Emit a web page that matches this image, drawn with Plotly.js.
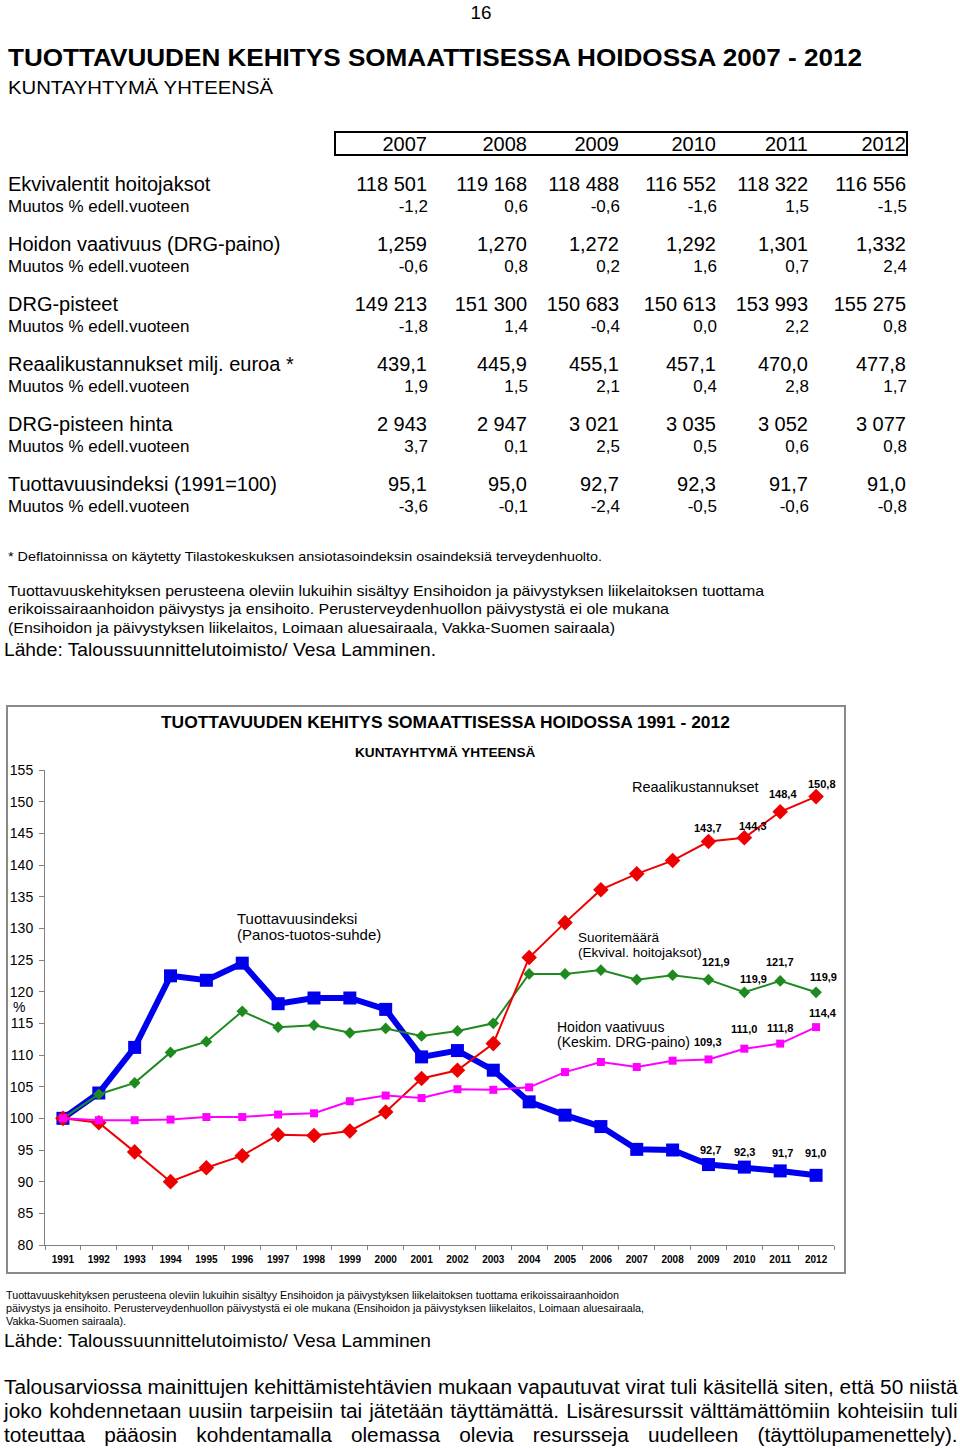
<!DOCTYPE html>
<html><head><meta charset="utf-8">
<script src="https://cdn.plot.ly/plotly-3.0.1.min.js"></script>
<style>
html,body{margin:0;padding:0;background:#fff;width:960px;height:1449px;overflow:hidden;}
#page{position:absolute;left:0;top:0;}
#chart{position:absolute;left:7px;top:706px;width:838px;height:567px;}
#frame{position:absolute;left:6px;top:705px;width:836px;height:565px;border:2px solid #8a8a8a;pointer-events:none;}
</style></head><body>
<svg id="page" width="960" height="1449" xmlns="http://www.w3.org/2000/svg" font-family="'Liberation Sans', Arial, Helvetica, sans-serif" fill="#000"></svg>
<div id="chart"></div>
<div id="frame"></div>
<script>
// ---------------- DATA ----------------
const tableYears = ['2007','2008','2009','2010','2011','2012'];
const rowLabels = ['Ekvivalentit hoitojaksot','Hoidon vaativuus (DRG-paino)','DRG-pisteet','Reaalikustannukset milj. euroa *','DRG-pisteen hinta','Tuottavuusindeksi (1991=100)'];
const changeLabel = 'Muutos % edell.vuoteen';
const ekvHoitojaksot = ['118 501','119 168','118 488','116 552','118 322','116 556'];
const ekvMuutos = ['-1,2','0,6','-0,6','-1,6','1,5','-1,5'];
const drgPaino = ['1,259','1,270','1,272','1,292','1,301','1,332'];
const drgPainoMuutos = ['-0,6','0,8','0,2','1,6','0,7','2,4'];
const drgPisteet = ['149 213','151 300','150 683','150 613','153 993','155 275'];
const drgPisteetMuutos = ['-1,8','1,4','-0,4','0,0','2,2','0,8'];
const reaalikust = ['439,1','445,9','455,1','457,1','470,0','477,8'];
const reaalikustMuutos = ['1,9','1,5','2,1','0,4','2,8','1,7'];
const drgHinta = ['2 943','2 947','3 021','3 035','3 052','3 077'];
const drgHintaMuutos = ['3,7','0,1','2,5','0,5','0,6','0,8'];
const tuottIndeksi = ['95,1','95,0','92,7','92,3','91,7','91,0'];
const tuottMuutos = ['-3,6','-0,1','-2,4','-0,5','-0,6','-0,8'];

const years = ['1991','1992','1993','1994','1995','1996','1997','1998','1999','2000','2001','2002','2003','2004','2005','2006','2007','2008','2009','2010','2011','2012'];
const tuottavuus = [100.0,104.0,111.2,122.5,121.8,124.5,118.1,119.0,119.0,117.2,109.7,110.7,107.6,102.6,100.5,98.7,95.1,95.0,92.7,92.3,91.7,91.0];
const suoritemaara = [100.0,103.8,105.6,110.4,112.1,116.9,114.4,114.7,113.5,114.2,113.0,113.8,115.0,122.8,122.8,123.4,121.9,122.6,121.9,119.9,121.7,119.9];
const reaalikustannukset = [100.0,99.3,94.7,90.0,92.2,94.1,97.4,97.3,98.0,101.0,106.3,107.6,111.8,125.4,130.9,136.1,138.6,140.7,143.7,144.3,148.4,150.8];
const vaativuus = [100.0,99.7,99.7,99.8,100.2,100.2,100.6,100.8,102.7,103.6,103.2,104.6,104.5,104.9,107.3,108.9,108.1,109.1,109.3,111.0,111.8,114.4];
const labelledIdx = [18,19,20,21];
const yTicks = [80,85,90,95,100,105,110,115,120,125,130,135,140,145,150,155];
const gridTicks = [85,90,95,100,105,110,115,120,125,130,135,140,145,150];

// ---------------- PAGE TEXT (SVG) ----------------
const NS = 'http://www.w3.org/2000/svg';
const svg = document.getElementById('page');
function txt(str, x, y, size, o) {
  o = o || {};
  const t = document.createElementNS(NS, 'text');
  t.setAttribute('x', x); t.setAttribute('y', y);
  t.setAttribute('font-size', size);
  if (o.bold) t.setAttribute('font-weight', 'bold');
  if (o.anchor) t.setAttribute('text-anchor', o.anchor);
  if (o.len) { t.setAttribute('textLength', o.len); t.setAttribute('lengthAdjust', 'spacingAndGlyphs'); }
  t.textContent = str;
  svg.appendChild(t);
  return t;
}
txt('16', 481, 19, 19, {anchor: 'middle', len: 21});
txt('TUOTTAVUUDEN KEHITYS SOMAATTISESSA HOIDOSSA 2007 - 2012', 8, 66, 24, {bold: true, len: 854});
txt('KUNTAYHTYMÄ YHTEENSÄ', 8, 94, 19, {len: 265});

const rect = document.createElementNS(NS, 'rect');
rect.setAttribute('x', 335); rect.setAttribute('y', 132); rect.setAttribute('width', 572); rect.setAttribute('height', 23);
rect.setAttribute('fill', 'none'); rect.setAttribute('stroke', '#000'); rect.setAttribute('stroke-width', 2);
svg.appendChild(rect);

const colRight = [427, 527, 619, 716, 808, 906];
tableYears.forEach((y, i) => txt(y, colRight[i], 151, 20, {anchor: 'end'}));
const rowValues = [ekvHoitojaksot, drgPaino, drgPisteet, reaalikust, drgHinta, tuottIndeksi];
const rowChanges = [ekvMuutos, drgPainoMuutos, drgPisteetMuutos, reaalikustMuutos, drgHintaMuutos, tuottMuutos];
rowLabels.forEach((lab, g) => {
  const y1 = 191 + 60 * g, y2 = 212 + 60 * g;
  txt(lab, 8, y1, 20);
  txt(changeLabel, 8, y2, 17);
  rowValues[g].forEach((v, i) => txt(v, colRight[i], y1, 20, {anchor: 'end'}));
  rowChanges[g].forEach((v, i) => txt(v, colRight[i] + 1, y2, 17, {anchor: 'end'}));
});

txt('* Deflatoinnissa on käytetty Tilastokeskuksen ansiotasoindeksin osaindeksiä terveydenhuolto.', 8, 561, 13, {len: 594});
txt('Tuottavuuskehityksen perusteena oleviin lukuihin sisältyy Ensihoidon ja päivystyksen liikelaitoksen tuottama', 8, 596, 15, {len: 756});
txt('erikoissairaanhoidon päivystys ja ensihoito.  Perusterveydenhuollon päivystystä ei ole mukana', 8, 614, 15, {len: 661});
txt('(Ensihoidon ja päivystyksen liikelaitos, Loimaan aluesairaala, Vakka-Suomen sairaala)', 8, 633, 15, {len: 607});
txt('Lähde:  Taloussuunnittelutoimisto/ Vesa Lamminen.', 4, 656, 19, {len: 432});

txt('Tuottavuuskehityksen perusteena oleviin lukuihin sisältyy Ensihoidon ja päivystyksen liikelaitoksen tuottama erikoissairaanhoidon', 6, 1299, 10.5, {len: 613});
txt('päivystys ja ensihoito.  Perusterveydenhuollon päivystystä ei ole mukana (Ensihoidon ja päivystyksen liikelaitos, Loimaan aluesairaala,', 6, 1312, 10.5, {len: 638});
txt('Vakka-Suomen sairaala).', 6, 1325, 10.5, {len: 120});
txt('Lähde:  Taloussuunnittelutoimisto/ Vesa Lamminen', 4, 1347, 19, {len: 427});

const paraLines = [
  'Talousarviossa mainittujen kehittämistehtävien mukaan vapautuvat virat tuli käsitellä siten, että 50 niistä',
  'joko kohdennetaan uusiin tarpeisiin tai jätetään täyttämättä. Lisäresurssit välttämättömiin kohteisiin tuli',
  'toteuttaa pääosin kohdentamalla olemassa olevia resursseja uudelleen (täyttölupamenettely).'
];
const paraY = [1394, 1418, 1442];
const paraEls = paraLines.map(s => txt(s, 0, 0, 21));
const paraW = paraEls.map(e => e.getComputedTextLength());
const target = 954;
const c = Math.min(...paraW.map(w => target / w));
paraEls.forEach((e, i) => {
  const n = (paraLines[i].match(/ /g) || []).length;
  const ws = Math.max(0, (target / c - paraW[i]) / n);
  e.style.wordSpacing = ws + 'px';
  e.setAttribute('transform', 'translate(4,' + paraY[i] + ') scale(' + c + ',1)');
});

// ---------------- CHART (Plotly) ----------------
const FONT = "'Liberation Sans', Arial, Helvetica, sans-serif";
const PX = px => (px - 45) / 789;
const PY = py => (1245 - py) / 475;
function series(y, color, width, symbol, size) {
  return {type: 'scatter', mode: 'lines+markers', x: years, y: y,
    line: {color: color, width: width}, marker: {symbol: symbol, size: size, color: color},
    hoverinfo: 'skip', cliponaxis: false};
}
const traces = [
  series(tuottavuus, '#0000ee', 6, 'square', 13),
  series(suoritemaara, '#1f8a1f', 2, 'diamond', 9),
  series(reaalikustannukset, '#ee0000', 2, 'diamond', 12),
  series(vaativuus, '#ff00ff', 2, 'square', 8)
];

const fmt = v => v.toFixed(1).replace('.', ',');
const labelSets = [
  {data: reaalikustannukset, off: [[0,14],[9,12],[3,18],[6,13]]},
  {data: suoritemaara, off: [[8,18],[9,13],[0,19],[7,15]]},
  {data: vaativuus, off: [[0,17],[0,20],[0,16],[7,14]]},
  {data: tuottavuus, off: [[2,15],[0,15],[2,18],[-1,22]]}
];
const annotations = [];
labelSets.forEach(s => {
  labelledIdx.forEach((idx, k) => {
    annotations.push({x: idx, y: s.data[idx], xref: 'x', yref: 'y', text: fmt(s.data[idx]),
      showarrow: false, xanchor: 'center', yanchor: 'middle', xshift: s.off[k][0], yshift: s.off[k][1],
      font: {size: 11, family: FONT, color: '#000', weight: 'bold'}, borderpad: 0});
  });
});
function note(text, px, py, size, o) {
  o = o || {};
  annotations.push({xref: 'paper', yref: 'paper', x: PX(px), y: PY(py), text: text, showarrow: false,
    xanchor: o.anchor || 'left', yanchor: 'middle', borderpad: 0,
    font: {size: size, family: FONT, color: '#000', weight: o.bold ? 'bold' : 'normal'}});
}
note('TUOTTAVUUDEN KEHITYS SOMAATTISESSA HOIDOSSA 1991 - 2012', 445, 722, 17.4, {anchor: 'center', bold: true});
note('KUNTAYHTYMÄ YHTEENSÄ', 445, 753, 13.6, {anchor: 'center', bold: true});
note('Tuottavuusindeksi', 236, 918, 15);
note('(Panos-tuotos-suhde)', 236, 935, 15);
note('Reaalikustannukset', 631, 787, 14.5);
note('Suoritemäärä', 577, 937, 13.5);
note('(Ekvival. hoitojaksot)', 577, 952, 13.5);
note('Hoidon vaativuus', 556, 1027, 14);
note('(Keskim. DRG-paino)', 556, 1042, 14);
note('%', 19, 1007, 14, {anchor: 'center'});

const layout = {
  width: 838, height: 567,
  margin: {l: 38, r: 11, t: 64, b: 28, pad: 0},
  paper_bgcolor: '#ffffff', plot_bgcolor: '#ffffff',
  showlegend: false,
  font: {family: FONT, color: '#000'},
  xaxis: {type: 'category', range: [-0.5, years.length - 0.5], autorange: false,
    tickson: 'boundaries', ticks: 'outside', ticklen: 4, tickcolor: '#808080', tickangle: 0,
    ticklabelstandoff: 5,
    showline: true, linecolor: '#808080', linewidth: 1, showgrid: false, zeroline: false,
    tickfont: {size: 10, family: FONT, color: '#000', weight: 'bold'}, fixedrange: true},
  yaxis: {range: [80, 155], autorange: false, tickmode: 'array', tickvals: yTicks, ticks: 'outside', ticklen: 5, tickcolor: '#808080',
    ticklabelstandoff: 3,
    showline: true, linecolor: '#808080', linewidth: 1, showgrid: false, zeroline: false,
    tickfont: {size: 14, family: FONT, color: '#000'}, fixedrange: true},
  yaxis2: {overlaying: 'y', range: [80, 155], autorange: false, tickmode: 'array', tickvals: gridTicks, showticklabels: false,
    ticks: '', showgrid: true, gridcolor: '#8c8c8c', gridwidth: 1, showline: false, zeroline: false, fixedrange: true},
  annotations: annotations
};
Plotly.newPlot('chart', traces, layout, {displayModeBar: false, staticPlot: true});
</script>
</body></html>
